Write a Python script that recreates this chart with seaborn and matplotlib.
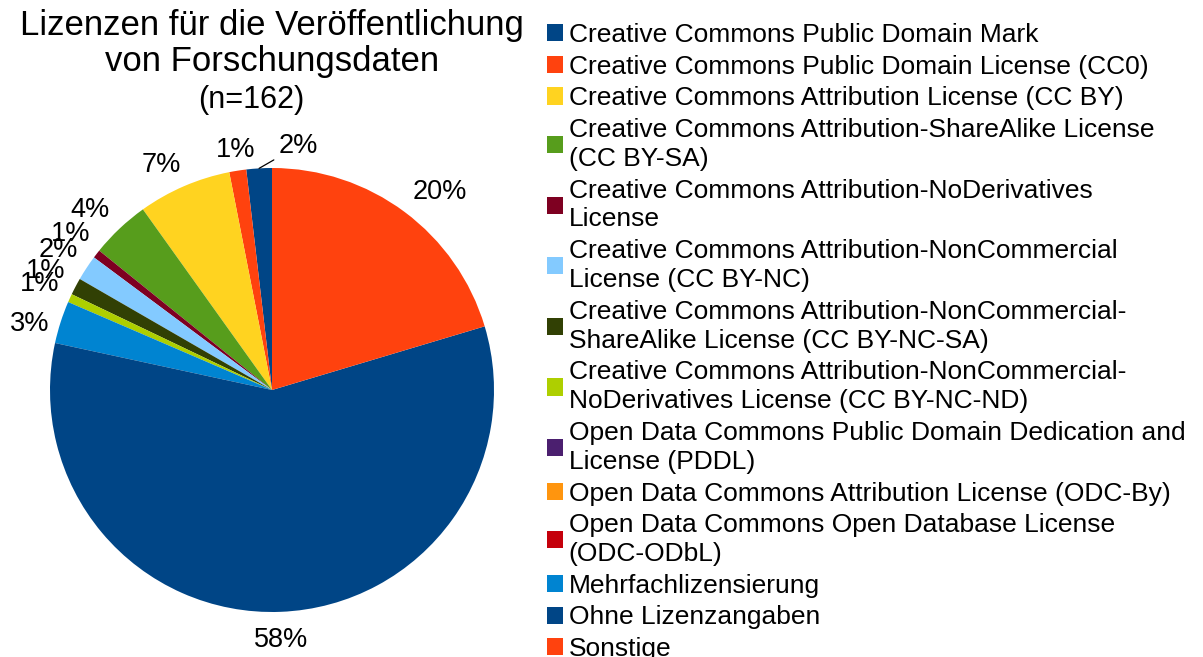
import numpy as np
import matplotlib.pyplot as plt
import seaborn as sns

labels = [
    "Creative Commons Public Domain Mark",
    "Creative Commons Public Domain License (CC0)",
    "Creative Commons Attribution License (CC BY)",
    "Creative Commons Attribution-ShareAlike License\n(CC BY-SA)",
    "Creative Commons Attribution-NoDerivatives\nLicense",
    "Creative Commons Attribution-NonCommercial\nLicense (CC BY-NC)",
    "Creative Commons Attribution-NonCommercial-\nShareAlike License (CC BY-NC-SA)",
    "Creative Commons Attribution-NonCommercial-\nNoDerivatives License (CC BY-NC-ND)",
    "Open Data Commons Public Domain Dedication and\nLicense (PDDL)",
    "Open Data Commons Attribution License (ODC-By)",
    "Open Data Commons Open Database License\n(ODC-ODbL)",
    "Mehrfachlizensierung",
    "Ohne Lizenzangaben",
    "Sonstige",
]
counts = [3, 2, 11, 7, 1, 3, 2, 1, 0, 0, 0, 5, 94, 33]
colors = [
    "#004586", "#ff420e", "#ffd320", "#579d1c", "#7e0021", "#83caff", "#314004",
    "#aecf00", "#4b1f6f", "#ff950e", "#c5000b", "#0084d1", "#004586", "#ff420e",
]
n_total = sum(counts)

sns.set_theme(style="white")
plt.rcParams["font.family"] = ["Liberation Sans", "DejaVu Sans"]
plt.rcParams["text.color"] = "black"

W, H = 1203, 657
fig = plt.figure(figsize=(W / 100, H / 100), dpi=100)
cx, cy, r = 272, 390, 222
ax = fig.add_axes([(cx - r) / W, (H - cy - r) / H, 2 * r / W, 2 * r / H])

palette = sns.color_palette(colors)
wedges, _ = ax.pie(counts, colors=palette, startangle=90, counterclock=True,
                   radius=1, wedgeprops=dict(linewidth=0))
ax.set_xlim(-1, 1)
ax.set_ylim(-1, 1)
ax.set_aspect("equal")
ax.axis("off")

# labels sit just outside the rim, pushed out by half their box;
# a few get nudged (pixels, right/down) like the original layout
gap, th = 12, 22
nudge = {1: (2, 5), 2: (-11, 6), 3: (-7, 5), 11: (0, 12), 12: (0, 4), 13: (13, 9)}
for i, (w, c) in enumerate(zip(wedges, counts)):
    if c == 0:
        continue
    pct = "%.0f%%" % (100 * c / n_total)
    mid = np.deg2rad((w.theta1 + w.theta2) / 2)
    ux, uy = np.cos(mid), np.sin(mid)
    if i == 0:
        ax.annotate(pct, xy=(ux, uy), xytext=((298 - cx) / r, (cy - 146) / r),
                    ha="center", va="center", fontsize=19.5,
                    arrowprops=dict(arrowstyle="-", color="black", lw=0.9,
                                    shrinkA=1, shrinkB=0))
        continue
    tw = 53 if len(pct) > 2 else 37
    d = r + gap + abs(ux) * tw / 2 + abs(uy) * th / 2
    dx, dy = nudge.get(i, (0, 0))
    ax.text((d * ux + dx) / r, (d * uy - dy) / r, pct,
            ha="center", va="center", fontsize=19.5)

fig.text(cx / W, 1 - 25 / H, "Lizenzen für die Veröffentlichung",
         ha="center", va="center", fontsize=25)
fig.text(cx / W, 1 - 62 / H, "von Forschungsdaten",
         ha="center", va="center", fontsize=25)
fig.text(251 / W, 1 - 100 / H, "(n=%d)" % n_total,
         ha="center", va="center", fontsize=22)

leg = fig.legend(wedges, labels, loc="upper left",
                 bbox_to_anchor=(547 / W, 1 - 23 / H), frameon=False,
                 fontsize=19, handlelength=0.62, handleheight=0.62,
                 handletextpad=0.2, labelspacing=0.29, borderpad=0,
                 borderaxespad=0)
for t in leg.get_texts():
    t.set_linespacing(1.26)

fig.savefig("out.png", dpi=100)
